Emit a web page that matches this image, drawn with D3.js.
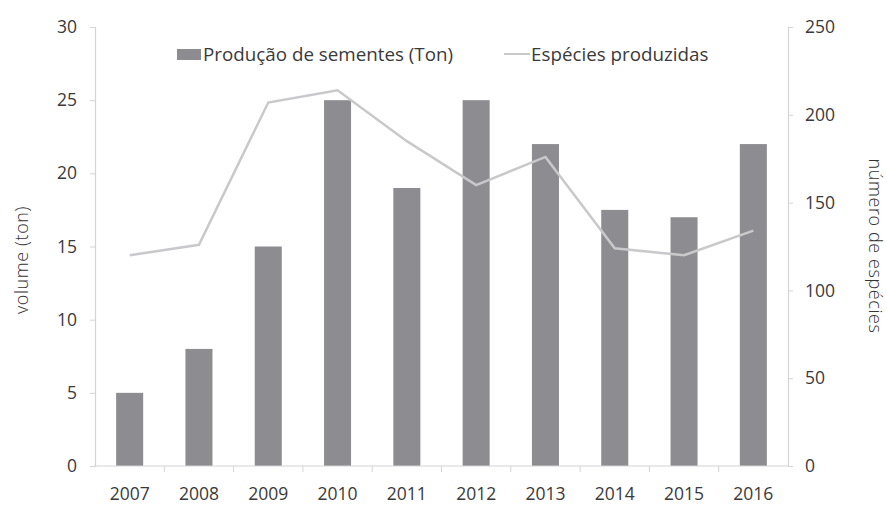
<!DOCTYPE html>
<html><head><meta charset="utf-8">
<script src="https://cdn.jsdelivr.net/npm/d3@7"></script>
<style>body{margin:0;background:#fff}</style>
</head><body>
<svg id="c" width="887" height="507"></svg>
<script>
const years = ["2007","2008","2009","2010","2011","2012","2013","2014","2015","2016"];
const production = [5, 8, 15, 25, 19, 25, 22, 17.5, 17, 22];
const species = [120, 126, 207, 214, 185, 160, 176, 124, 120, 134];
const leftTicks = [0,5,10,15,20,25,30];
const rightTicks = [0,50,100,150,200,250];

const svg = d3.select("#c");
const L = 95, R = 788, T = 27, B = 466;
const x = d3.scaleBand().domain(years).range([L, R]).paddingInner(0.61).paddingOuter(0.305);
const xb = d3.scaleBand().domain(years).range([L, R]);
const yL = d3.scaleLinear().domain([0,30]).range([B, T]);
const yR = d3.scaleLinear().domain([0,250]).range([B, T]);
const tickFont = "'Open Sans', sans-serif";
const axisCol = "#d4d4d4", txtCol = "#3a3a3a";
const fs = 17.5;

// bars
svg.append("g").selectAll("rect").data(production).join("rect")
  .attr("x", (d,i)=>x(years[i])).attr("width", x.bandwidth())
  .attr("y", d=>yL(d)).attr("height", d=>B - yL(d))
  .attr("fill", "#8d8d91");

// left axis
const gl = svg.append("g").attr("transform",`translate(${L},0)`)
  .call(d3.axisLeft(yL).tickValues(leftTicks).tickSize(5).tickPadding(13));
// right axis
const gr = svg.append("g").attr("transform",`translate(${R},0)`)
  .call(d3.axisRight(yR).tickValues(rightTicks).tickSize(5).tickPadding(12));
// x axis line + ticks at band boundaries
const gx = svg.append("g").attr("transform",`translate(0,${B})`)
  .call(d3.axisBottom(x).tickSize(0).tickPadding(22));
gx.select(".domain").attr("d", `M${L},0H${R}`);
svg.append("g").selectAll("line").data(years.slice(1)).join("line")
  .attr("x1", d=>xb(d)).attr("x2", d=>xb(d)).attr("y1", B).attr("y2", B+6)
  .attr("stroke", axisCol);

[gl, gr, gx].forEach(g=>{
  g.select(".domain").attr("stroke", axisCol).attr("stroke-width",1.2);
  g.selectAll(".tick line").attr("stroke", axisCol);
  g.selectAll("text").attr("font-family", tickFont).attr("font-size", fs).attr("fill", txtCol);
});

// line
const line = d3.line().x((d,i)=>xb(years[i]) + xb.bandwidth()/2).y(d=>yR(d));
svg.append("path").datum(species).attr("d", line)
  .attr("fill","none").attr("stroke","#c9c9cb").attr("stroke-width",2.5);

// legend
svg.append("rect").attr("x",177).attr("y",49).attr("width",24).attr("height",11).attr("fill","#8d8d91");
svg.append("text").attr("x",203).attr("y",61).text("Produção de sementes (Ton)")
  .attr("font-family", tickFont).attr("font-size",18.8).attr("fill",txtCol);
svg.append("line").attr("x1",504).attr("x2",530).attr("y1",54).attr("y2",54)
  .attr("stroke","#c9c9cb").attr("stroke-width",2);
svg.append("text").attr("x",531).attr("y",61).text("Espécies produzidas")
  .attr("font-family", tickFont).attr("font-size",18.8).attr("fill",txtCol);

// axis titles
svg.append("text").attr("transform","translate(28,260) rotate(-90)")
  .attr("text-anchor","middle").text("volume (ton)")
  .attr("font-family","'Open Sans', sans-serif").attr("font-weight",300).attr("font-size",18)
  .attr("letter-spacing",0.6).attr("fill","#333");
svg.append("text").attr("transform","translate(869,246) rotate(90)")
  .attr("text-anchor","middle").text("número de espécies")
  .attr("font-family","'Open Sans', sans-serif").attr("font-weight",300).attr("font-size",18)
  .attr("letter-spacing",0.6).attr("fill","#333");
</script>
</body></html>
